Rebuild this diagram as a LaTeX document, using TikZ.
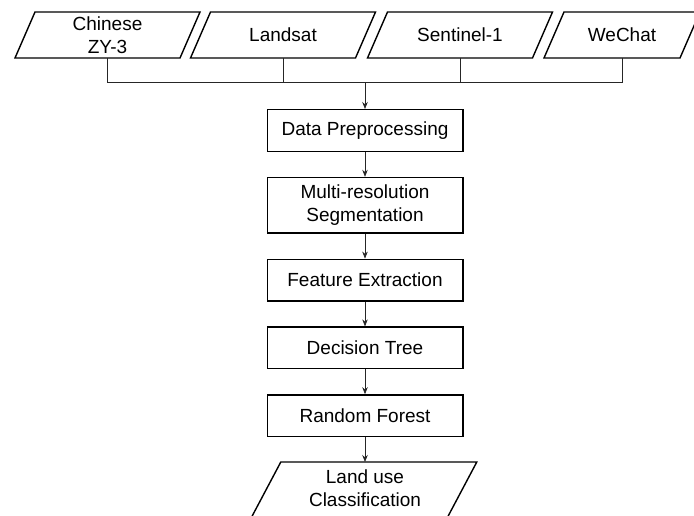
\documentclass[tikz,border=0pt]{standalone}
\usepackage{fontspec}
\setmainfont{Liberation Sans}
\usetikzlibrary{arrows.meta,positioning}

\begin{document}
\begin{tikzpicture}[x=1pt,y=1pt,>={Stealth[length=7pt,width=5.5pt]},node distance=24.8pt,
  every node/.style={font=\fontsize{19}{23}\selectfont},
  proc/.style={draw,line width=1.4pt,minimum width=195.6pt,minimum height=41.6pt,align=center,inner sep=2pt},
  io/.style={minimum width=165pt,minimum height=46pt,align=center,inner sep=1pt,outer sep=0pt},
  frame/.style={line width=1.4pt,line join=miter},
  link/.style={draw=black!85,line width=0.7pt}]
  \useasboundingbox (0,0) rectangle (694,-515);
  \clip (0,0) rectangle (694,-515);

  % data sources
  \node[io]                     (zy3)  at (107.5,-35) {Chinese\\ZY-3};
  \node[io]                     (land) at (283,-35)   {Landsat};
  \node[io]                     (sent) at (460,-35)   {Sentinel-1};
  \node[io,minimum width=136pt] (wech) at (622,-35)   {WeChat};
  \coordinate (bus) at (365,-82);

  % processing chain
  \node[proc] (prep) at (365,-130.5) {Data Preprocessing};
  \node[proc,minimum height=55.6pt,below=of prep] (seg) {Multi-resolution\\Segmentation};
  \node[proc,below=of seg]    (feat)   {Feature Extraction};
  \node[proc,below=of feat]   (tree)   {Decision Tree};
  \node[proc,below=of tree]   (forest) {Random Forest};
  \node[io,minimum width=196pt,minimum height=52pt,below=of forest] (lu) {Land use\\Classification};

  % slanted outlines (top shift / bottom shift / bottom overhang)
  \foreach \n/\s/\t/\e in {zy3/10/10/0,land/10/10/0,sent/10/10/0,wech/10/10/0,lu/13.8/18/8}
    \draw[frame] ([xshift=\s pt]\n.north west) -- ([xshift=\s pt]\n.north east)
      -- ([xshift=-\t pt,yshift=-\e pt]\n.south east)
      -- ([xshift=-\t pt,yshift=-\e pt]\n.south west) -- cycle;

  \draw[link] (zy3.south) |- (wech.south |- bus) -- (wech.south);
  \draw[link] (land.south) -- (land.south |- bus);
  \draw[link] (sent.south) -- (sent.south |- bus);
  \draw[link,->] (bus) -- (prep);
  \draw[link,->] (prep) -- (seg);
  \draw[link,->] (seg) -- (feat);
  \draw[link,->] (feat) -- (tree);
  \draw[link,->] (tree) -- (forest);
  \draw[link,->] (forest) -- (lu);
\end{tikzpicture}
\end{document}
